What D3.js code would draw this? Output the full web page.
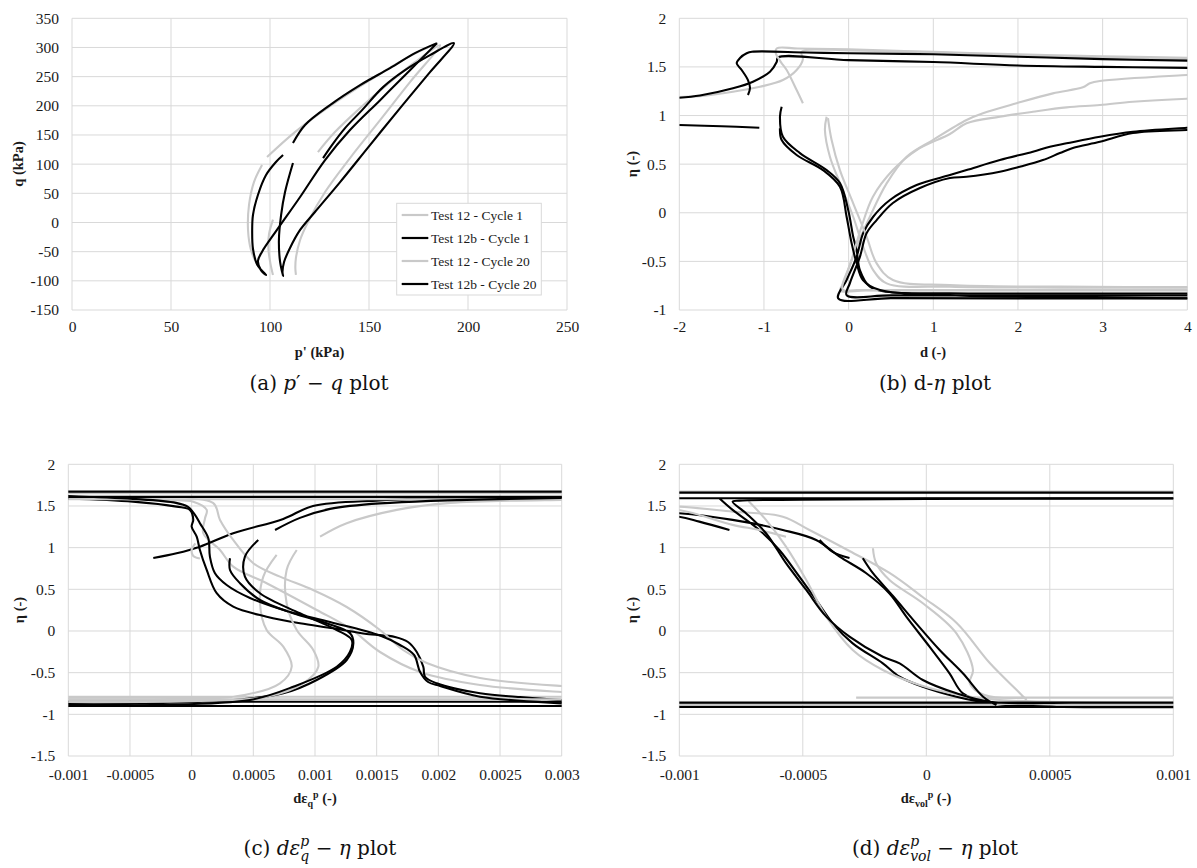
<!DOCTYPE html>
<html>
<head>
<meta charset="utf-8">
<script src="https://cdn.jsdelivr.net/npm/d3@7"></script>
<style>
  body { margin: 0; background: #fff; }
  svg { display: block; }
</style>
</head>
<body>
<svg id="fig" width="1197" height="868"></svg>
<script>
// ---------- series labels ----------
const seriesNames = ["Test 12 - Cycle 1", "Test 12b - Cycle 1", "Test 12 - Cycle 20", "Test 12b - Cycle 20"];

// ---------- tick values ----------
const pTicks = [0, 50, 100, 150, 200, 250];
const qTicks = [-150, -100, -50, 0, 50, 100, 150, 200, 250, 300, 350];
const dTicks = [-2, -1, 0, 1, 2, 3, 4];
const etaTicksTop = [-1, -0.5, 0, 0.5, 1, 1.5, 2];
const etaTicksBottom = [-1.5, -1, -0.5, 0, 0.5, 1, 1.5, 2];
const epsQTicks = [-0.001, -0.0005, 0, 0.0005, 0.001, 0.0015, 0.002, 0.0025, 0.003];
const epsVolTicks = [-0.001, -0.0005, 0, 0.0005, 0.001];

// ---------- (a) p' - q  [p' kPa, q kPa], null = break ----------
const pq12c1 = [
  [124.2,120.7],[132.8,155.0],[145.5,196.1],[160.6,240.6],[173.2,274.8],[185.9,303.9],
  [170.7,240.6],[155.6,175.5],[140.4,110.4],[127.8,52.2],[119.2,0.9],[115.2,-30.0],[113.1,-60.8],[112.8,-78],[113.1,-89.9],
  null,
  [101.5,-90],[100.2,-70],[99.2,-45],[99.5,-20],[101.5,5]
];
const pq12bc1 = [
  [126.8,110.4],[131.3,132.7],[137.9,161.8],[146.5,192.6],[157.1,232.0],[168.2,261.1],[180.8,286.8],[192.9,307.4],
  [180.8,257.7],[165.7,196.1],[150.5,132.7],[135.4,69.3],[122.7,18.0],[115.2,-12.8],[110.1,-43.7],[107.1,-67.6],[106.3,-85],[106.6,-91.6],
  [105.1,-67.6],[104.5,-30],[105.6,12.8],[107.6,52.2],[111.6,101.9]
];
const pq12c20 = [
  [184.8,307.4],[170.7,285.1],[150.5,244.0],[130.3,199.5],[112.6,155.0],[98.5,112.2],
  null,
  [96.0,98.5],[91.9,69.3],[89.4,30.0],[88.9,-12.8],[90.4,-47.1],[93.4,-71.1],[97.5,-89.9]
];
const pq12bc20 = [
  [184.3,307.4],[170.7,261.1],[155.6,209.7],[140.4,158.4],[127.8,107.0],[115.2,43.7],[103.5,-12.8],[96.0,-50],[93.9,-66],[95.5,-82],[98.0,-90],
  [93.5,-72],[91.4,-45],[91.0,-15],[91.4,12.8],[93.9,47.1],[98.0,81.3],[103.0,103.6],[106.6,115.6],
  null,
  [111.6,136.1],[117.7,167],[130.3,201.2],[145.5,235.4],[160.6,264.5],[173.2,290.2],[184.3,307.4]
];

// ---------- (b) d - eta ----------
const de12c1 = [
  [-2.0,1.19],[-1.756,1.2],[-1.366,1.245],[-1.047,1.296],[-0.776,1.365],[-0.614,1.468],[-0.54,1.58],[-0.56,1.65],[-0.5,1.675],[0,1.67],[1,1.65],[2,1.62],[3,1.595],[4,1.58],[4.3,1.578],
  null,
  [-0.26,0.988],[-0.28,0.851],[-0.221,0.576],[-0.103,0.306],[0.054,-0.041],[0.172,-0.35],[0.29,-0.59],[0.449,-0.726],[1.196,-0.761],[2.5,-0.77],[4.3,-0.77],
  null,
  [4.3,-0.80],[1.0,-0.80],[0.2,-0.80],[-0.1,-0.80],[-0.064,-0.726],[0.094,-0.35],[0.251,-0.041],[0.449,0.302],[0.685,0.576],[0.995,0.748],[1.393,0.954],[1.586,1.023],[1.983,1.126],[2.412,1.228],[2.766,1.29],[2.849,1.331],[2.968,1.355],[3.994,1.417],[4.3,1.43]
];
const de12bc1 = [
  [-2.0,1.183],[-1.756,1.206],[-1.366,1.28],[-1.13,1.348],[-0.929,1.451],[-0.85,1.55],[-0.835,1.597],[0,1.57],[1,1.55],[2,1.515],[3,1.50],[4,1.49],[4.3,1.488],
  null,
  [-0.791,1.091],[-0.811,0.988],[-0.776,0.782],[-0.575,0.614],[-0.26,0.439],[-0.103,0.306],[-0.005,0.028],[0.054,-0.247],[0.094,-0.384],[0.133,-0.59],[0.251,-0.761],[0.449,-0.813],[1.196,-0.829],[2.5,-0.83],[4.3,-0.83],
  null,
  [4.3,-0.88],[2.0,-0.88],[0.5,-0.878],[-0.123,-0.881],[-0.024,-0.692],[0.094,-0.453],[0.172,-0.209],[0.29,-0.041],[0.488,0.131],[0.803,0.285],[1.196,0.388],[1.393,0.439],[1.786,0.542],[2.176,0.628],[2.377,0.679],[2.574,0.714],[2.968,0.782],[3.357,0.833],[3.994,0.874],[4.3,0.89]
];
const de12c20 = [
  [4.3,1.59],[3,1.61],[2,1.63],[1,1.655],[0,1.68],[-0.6,1.69],[-0.85,1.69],[-0.86,1.64],[-0.8,1.55],[-0.732,1.468],[-0.614,1.262],[-0.54,1.126],
  null,
  [-0.244,0.974],[-0.201,0.748],[-0.103,0.439],[0.054,0.097],[0.213,-0.247],[0.331,-0.521],[0.523,-0.692],[1.196,-0.744],[2.5,-0.76],[4.3,-0.765],
  null,
  [4.3,-0.795],[1.0,-0.795],[0.1,-0.795],[-0.07,-0.79],[0.03,-0.5],[0.15,-0.15],[0.287,0.165],[0.523,0.439],[0.803,0.645],[1.196,0.81],[1.393,0.92],[1.786,0.988],[2.176,1.039],[2.574,1.084],[2.968,1.108],[3.357,1.142],[3.994,1.173],[4.3,1.18]
];
const de12bc20 = [
  [-1.189,1.211],[-1.165,1.283],[-1.189,1.365],[-1.263,1.468],[-1.322,1.537],[-1.283,1.592],[-1.204,1.64],[-1.142,1.656],[-0.5,1.648],[0,1.64],[1,1.63],[2,1.605],[3,1.58],[4,1.565],[4.3,1.563],
  null,
  [-2.0,0.902],[-1.5,0.89],[-1.055,0.874],
  null,
  [-0.811,0.868],[-0.791,0.748],[-0.614,0.594],[-0.303,0.439],[-0.103,0.267],[-0.024,-0.041],[0.035,-0.312],[0.094,-0.517],[0.169,-0.692],[0.37,-0.795],[1.196,-0.847],[2.5,-0.87],[4.3,-0.88],
  null,
  [4.3,-0.85],[2.0,-0.85],[0.5,-0.85],[-0.024,-0.847],[0.015,-0.723],[0.133,-0.453],[0.213,-0.209],[0.331,-0.075],[0.523,0.1],[0.842,0.254],[1.196,0.357],[1.393,0.37],[1.786,0.422],[2.022,0.473],[2.294,0.542],[2.495,0.614],[2.648,0.666],[2.968,0.73],[3.357,0.82],[3.994,0.851],[4.3,0.86]
];

// ---------- (c) d eps_q^p - eta ----------
const eq12c1 = [
  [-0.0012,1.653],[0.0032,1.653],
  null,
  [-0.0012,1.63],[-0.000203,1.573],[0.000013,1.552],[0.000122,1.453],[0.000108,1.35],[0.000094,1.173],[0.00023,0.972],[0.000337,0.772],[0.000608,0.573],[0.001014,0.252],[0.001284,0.03],[0.001527,-0.252],[0.001852,-0.492],[0.002338,-0.648],[0.003,-0.732],[0.0032,-0.745],
  null,
  [0.0032,-0.789],[-0.0012,-0.789],
  null,
  [0.000689,0.912],[0.000581,0.652],[0.000554,0.333],[0.000608,0.012],[0.000743,-0.188],[0.000811,-0.429],[0.000716,-0.628],[0.000337,-0.789],[-0.000338,-0.8],[-0.0012,-0.80],
  null,
  [0.001041,1.132],[0.001257,1.293],[0.001663,1.453],[0.002095,1.537],[0.003,1.573],[0.0032,1.575]
];
const eq12bc1 = [
  [-0.0012,1.672],[0.0032,1.672],
  null,
  [-0.0012,1.60],[-0.000476,1.552],[-0.000122,1.492],[-0.000014,1.453],[0.000013,1.333],[0.0,1.252],[0.000041,1.132],[0.000067,0.972],[0.000122,0.732],[0.000203,0.453],[0.000337,0.292],[0.000608,0.172],[0.000878,0.092],[0.001148,0.032],[0.001419,-0.036],[0.001649,-0.072],[0.001754,-0.132],[0.001825,-0.252],[0.001878,-0.429],[0.001892,-0.549],[0.001987,-0.628],[0.002338,-0.748],[0.002663,-0.792],[0.003001,-0.828],[0.0032,-0.84],
  null,
  [0.0032,-0.849],[-0.0012,-0.849],
  null,
  [0.000311,0.873],[0.000311,0.732],[0.000392,0.573],[0.000554,0.372],[0.000824,0.212],[0.001095,0.092],[0.001284,-0.028],[0.001311,-0.148],[0.001257,-0.348],[0.001014,-0.588],[0.000743,-0.748],[0.000337,-0.828],[-0.000338,-0.868],[-0.0012,-0.876],
  null,
  [-0.000311,0.876],[-0.000122,0.933],[0.000067,1.012],[0.000337,1.173],[0.000743,1.345],[0.000984,1.5],[0.001527,1.567],[0.002095,1.597],[0.003,1.605],[0.0032,1.607]
];
const eq12c20 = [
  [-0.0012,1.581],[0.0032,1.581],
  null,
  [-0.0012,1.61],[-0.0003,1.575],[0.000173,1.537],[0.00023,1.333],[0.000337,1.092],[0.0005,0.813],[0.000716,0.652],[0.000984,0.492],[0.001257,0.288],[0.001527,0.012],[0.001714,-0.228],[0.001906,-0.384],[0.002338,-0.564],[0.003,-0.66],[0.0032,-0.67],
  null,
  [0.0032,-0.82],[-0.0012,-0.82],
  null,
  [0.000852,0.972],[0.00077,0.732],[0.00077,0.333],[0.000852,0.012],[0.000986,-0.228],[0.001027,-0.429],[0.000905,-0.628],[0.000608,-0.789],[0.000067,-0.84],[-0.0012,-0.852],
  null,
  [0.000067,0.87],[0.000013,0.9],[0.0,0.97],[0.00003,1.05]
];
const eq12bc20 = [
  [-0.0012,1.609],[0.0032,1.609],
  null,
  [-0.0012,1.63],[-0.000476,1.585],[-0.000127,1.537],[-0.00003,1.489],[0.000027,1.393],[0.000067,1.293],[0.000135,1.113],[0.000148,0.892],[0.000189,0.693],[0.000284,0.552],[0.000473,0.396],[0.000797,0.228],[0.001122,0.108],[0.001528,-0.054],[0.001689,-0.168],[0.001803,-0.288],[0.001852,-0.492],[0.001917,-0.612],[0.002014,-0.66],[0.002338,-0.788],[0.003001,-0.868],[0.0032,-0.88],
  null,
  [0.0032,-0.90],[-0.0012,-0.90],
  null,
  [0.00054,1.092],[0.000432,0.892],[0.000432,0.652],[0.000554,0.453],[0.000878,0.212],[0.001176,0.012],[0.001298,-0.108],[0.001284,-0.248],[0.001176,-0.429],[0.000824,-0.669],[0.000473,-0.828],[-0.000338,-0.888],[-0.0012,-0.90],
  null,
  [0.000676,1.212],[0.000878,1.357],[0.001122,1.465],[0.001527,1.531],[0.003,1.597],[0.0032,1.598]
];

// ---------- (d) d eps_vol^p - eta ----------
const ev12c1 = [
  [-0.0012,1.672],[0.0012,1.672],
  null,
  [-0.0012,1.50],[-0.001003,1.492],[-0.000784,1.432],[-0.000581,1.372],[-0.000473,1.212],[-0.000311,0.96],[-0.000149,0.696],[-0.000015,0.408],[0.000123,0.096],[0.000257,-0.384],[0.000366,-0.708],[0.000406,-0.828],
  null,
  [-0.000284,-0.80],[0.0012,-0.80]
];
const ev12bc1 = [
  [-0.0012,1.66],[0.0012,1.66],
  null,
  [-0.0012,1.593],[0.0012,1.593],
  null,
  [-0.000838,1.593],[-0.000784,1.453],[-0.000676,1.212],[-0.000595,0.972],[-0.000514,0.652],[-0.000446,0.372],[-0.000379,0.092],[-0.000298,-0.148],[-0.000176,-0.388],[-0.000108,-0.549],[-0.000014,-0.669],[0.000122,-0.789],[0.000257,-0.868],[0.000527,-0.909],[0.0012,-0.91],
  null,
  [-0.0012,-0.91],[0.0012,-0.91],
  null,
  [-0.0012,1.43],[-0.001003,1.413],[-0.000784,1.333],[-0.000581,1.212],[-0.000446,1.092],[-0.000351,0.892],[-0.000243,0.693],[-0.000149,0.45],[-0.000081,0.172],[0.000013,-0.188],[0.000094,-0.508],[0.000148,-0.748],[0.000257,-0.868]
];
const ev12c20 = [
  [-0.00072,1.56],[-0.000649,1.333],[-0.000568,1.012],[-0.000486,0.612],[-0.000405,0.172],[-0.000298,-0.228],[-0.000176,-0.468],[-0.000027,-0.648],[0.000135,-0.768],[0.000297,-0.828],[0.0006,-0.855],[0.0012,-0.86],
  null,
  [-0.0012,-0.875],[0.0012,-0.875],
  null,
  [-0.000216,0.993],[-0.000203,0.813],[-0.000149,0.612],[-0.000014,0.333],[0.000122,-0.028],[0.000189,-0.468],[0.000176,-0.628],[0.000236,-0.768],[0.0004,-0.80],
  null,
  [-0.0012,1.47],[-0.001003,1.453],[-0.000784,1.273],[-0.000676,1.212],[-0.000568,1.132]
];
const ev12bc20 = [
  [0.0012,1.59],[0.0,1.585],[-0.0005,1.575],[-0.000757,1.564],[-0.000784,1.552],[-0.00073,1.413],[-0.000649,1.173],[-0.000568,0.813],[-0.000486,0.492],[-0.000405,0.172],[-0.000311,-0.068],[-0.000176,-0.309],[-0.000108,-0.388],[-0.000014,-0.588],[0.000122,-0.748],[0.000257,-0.849],[0.0006,-0.86],[0.0012,-0.86],
  null,
  [-0.0012,-0.86],[0.0012,-0.86],
  null,
  [-0.0012,1.40],[-0.001003,1.372],[-0.000919,1.312],[-0.000797,1.212],
  null,
  [-0.000432,1.092],[-0.000379,0.95],[-0.000311,0.876],
  null,
  [-0.000257,0.873],[-0.000216,0.693],[-0.000135,0.42],[-0.000041,0.092],[0.000054,-0.228],[0.000148,-0.508],[0.00023,-0.789],[0.000284,-0.888]
];

// ---------- styles ----------
const FONT = '"Liberation Serif", "Times New Roman", Times, serif';
const CAP_FONT = '"DejaVu Serif", "Liberation Serif", serif';
const GRID = "#d9d9d9";
const seriesColors = ["#c9c9c9", "#000000", "#c9c9c9", "#000000"];

const svg = d3.select("#fig");

const panels = [
  { id: "a", left: 72, right: 567, top: 18.3, bottom: 310,
    xDomain: [0, 250], yDomain: [-150, 350], xTicks: pTicks, yTicks: qTicks,
    series: [pq12c1, pq12bc1, pq12c20, pq12bc20], xPad: 11 },
  { id: "b", left: 679.3, right: 1187.3, top: 18.3, bottom: 310,
    xDomain: [-2, 4], yDomain: [-1, 2], xTicks: dTicks, yTicks: etaTicksTop,
    series: [de12c1, de12bc1, de12c20, de12bc20], xPad: 11 },
  { id: "c", left: 68.3, right: 561.7, top: 464.3, bottom: 756,
    xDomain: [-0.001, 0.003], yDomain: [-1.5, 2], xTicks: epsQTicks, yTicks: etaTicksBottom,
    series: [eq12c1, eq12bc1, eq12c20, eq12bc20], xPad: 13 },
  { id: "d", left: 679.3, right: 1173.3, top: 464.3, bottom: 756,
    xDomain: [-0.001, 0.001], yDomain: [-1.5, 2], xTicks: epsVolTicks, yTicks: etaTicksBottom,
    series: [ev12c1, ev12bc1, ev12c20, ev12bc20], xPad: 13 }
];

const defs = svg.append("defs");

panels.forEach(p => {
  const x = d3.scaleLinear().domain(p.xDomain).range([p.left, p.right]);
  const y = d3.scaleLinear().domain(p.yDomain).range([p.bottom, p.top]);
  const g = svg.append("g").attr("class", "panel-" + p.id);

  // gridlines
  g.append("g").selectAll("line").data(p.xTicks).join("line")
    .attr("x1", d => x(d)).attr("x2", d => x(d))
    .attr("y1", p.top).attr("y2", p.bottom)
    .attr("stroke", GRID).attr("stroke-width", 1);
  g.append("g").selectAll("line").data(p.yTicks).join("line")
    .attr("x1", p.left).attr("x2", p.right)
    .attr("y1", d => y(d)).attr("y2", d => y(d))
    .attr("stroke", GRID).attr("stroke-width", 1);

  // tick labels through d3 axes
  const xAxis = g.append("g").attr("transform", `translate(0,${p.bottom})`)
    .call(d3.axisBottom(x).tickValues(p.xTicks).tickSize(0).tickPadding(p.xPad).tickFormat(d => String(d)));
  const yAxis = g.append("g").attr("transform", `translate(${p.left},0)`)
    .call(d3.axisLeft(y).tickValues(p.yTicks).tickSize(0).tickPadding(13).tickFormat(d => String(d)));
  [xAxis, yAxis].forEach(a => {
    a.select(".domain").remove();
    a.selectAll("text").attr("font-family", FONT).attr("font-size", 15.5).attr("fill", "#1a1a1a");
  });

  // clip region
  defs.append("clipPath").attr("id", "clip-" + p.id).append("rect")
    .attr("x", p.left).attr("y", p.top)
    .attr("width", p.right - p.left).attr("height", p.bottom - p.top);

  const line = d3.line()
    .defined(d => d !== null)
    .x(d => x(d[0])).y(d => y(d[1]))
    .curve(d3.curveCatmullRom.alpha(0.5));

  g.append("g").attr("clip-path", `url(#clip-${p.id})`)
    .selectAll("path").data(p.series).join("path")
    .attr("d", d => line(d))
    .attr("fill", "none")
    .attr("stroke", (d, i) => seriesColors[i])
    .attr("stroke-width", 2.1)
    .attr("stroke-linejoin", "round")
    .attr("stroke-linecap", "butt");
});

// ---------- axis titles ----------
function axisTitle(parts, x, y, rotate) {
  const t = svg.append("text")
    .attr("font-family", FONT).attr("font-size", 14.5).attr("font-weight", "bold")
    .attr("text-anchor", "middle").attr("fill", "#1a1a1a")
    .attr("transform", `translate(${x},${y})` + (rotate ? " rotate(-90)" : ""));
  parts.forEach(pt => {
    const s = t.append("tspan").text(pt.t);
    if (pt.sub) s.attr("font-size", 10).attr("dy", 4);
    if (pt.sup) s.attr("font-size", 10).attr("dy", -9);
    if (pt.back) s.attr("dy", pt.back);
  });
}
axisTitle([{ t: "p' (kPa)" }], 319.5, 357, false);
axisTitle([{ t: "q (kPa)" }], 22.5, 164, true);
axisTitle([{ t: "d (-)" }], 933, 357, false);
axisTitle([{ t: "η (-)" }], 636.5, 164, true);
axisTitle([{ t: "η (-)" }], 24, 610, true);
axisTitle([{ t: "η (-)" }], 637, 610, true);
axisTitle([{ t: "dε" }, { t: "q", sub: true }, { t: "p", sup: true }, { t: " (-)", back: 5 }], 315, 803, false);
axisTitle([{ t: "dε" }, { t: "vol", sub: true }, { t: "p", sup: true }, { t: " (-)", back: 5 }], 926, 803, false);

// ---------- legend (panel a) ----------
const legend = svg.append("g");
legend.append("rect").attr("x", 396.7).attr("y", 203.3).attr("width", 144.6).attr("height", 91.7)
  .attr("fill", "#fff").attr("stroke", GRID).attr("stroke-width", 1);
const legY = d3.scalePoint().domain(seriesNames).range([215, 284]);
seriesNames.forEach((name, i) => {
  legend.append("line").attr("x1", 401.7).attr("x2", 428.3)
    .attr("y1", legY(name)).attr("y2", legY(name))
    .attr("stroke", seriesColors[i]).attr("stroke-width", 2.2);
  legend.append("text").attr("x", 431).attr("y", legY(name)).attr("dy", "0.35em")
    .attr("font-family", FONT).attr("font-size", 13.5).attr("fill", "#1a1a1a").text(name);
});

// ---------- captions ----------
function caption(parts, cx, y) {
  const t = svg.append("text").attr("x", cx).attr("y", y)
    .attr("font-family", CAP_FONT).attr("font-size", 20).attr("text-anchor", "middle").attr("fill", "#111");
  let pendingBack = null;
  parts.forEach(pt => {
    const s = t.append("tspan").text(pt.t);
    if (pt.i) s.attr("font-style", "italic");
    if (pt.sup) { s.attr("font-size", 14).attr("font-style", "italic").attr("dy", -9); pendingBack = s; }
    else if (pt.sub) {
      const w = pendingBack ? pendingBack.node().getComputedTextLength() : 0;
      s.attr("font-size", 14).attr("font-style", "italic").attr("dx", -w).attr("dy", 15);
      pendingBack = null;
    }
    if (pt.reset) s.attr("dy", pt.reset);
  });
}
caption([{ t: "(a) " }, { t: "p", i: true }, { t: "′ − " }, { t: "q", i: true }, { t: " plot" }], 319, 390);
caption([{ t: "(b) d-" }, { t: "η", i: true }, { t: " plot" }], 935, 390);
caption([{ t: "(c) " }, { t: "dε", i: true }, { t: "p", sup: true }, { t: "q", sub: true }, { t: " − ", reset: -6 }, { t: "η", i: true }, { t: " plot" }], 320, 855);
caption([{ t: "(d) " }, { t: "dε", i: true }, { t: "p", sup: true }, { t: "vol", sub: true }, { t: " − ", reset: -6 }, { t: "η", i: true }, { t: " plot" }], 935, 855);
</script>
</body>
</html>
